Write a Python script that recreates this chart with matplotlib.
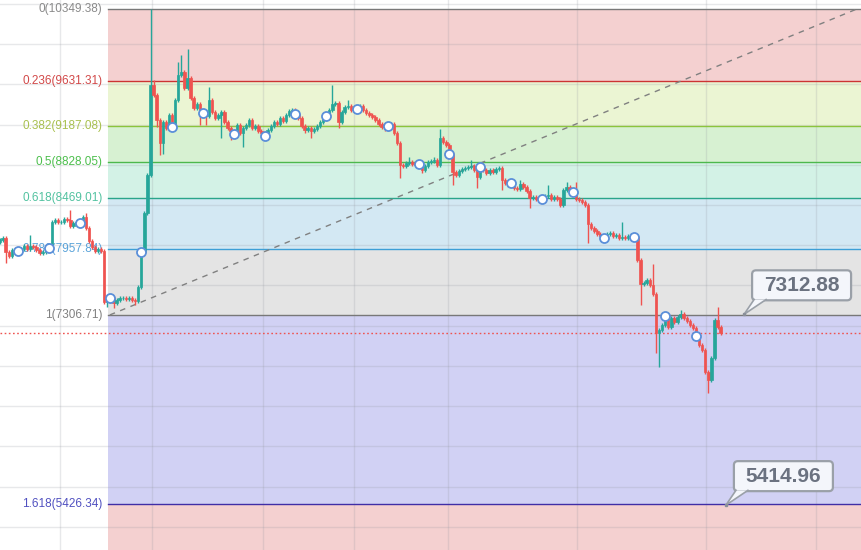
import matplotlib
matplotlib.use("Agg")
import matplotlib.pyplot as plt
from matplotlib.patches import FancyBboxPatch, Polygon
import numpy as np

# 2h candles, ten bars per day, closes
closes = [
    8052, 8072, 7933, 7893, 7952, 7943, 7943, 7962, 7992, 7962,
    7992, 7982, 7952, 7923, 7933, 7962, 7972, 8231, 8251, 8231,
    8231, 8261, 8251, 8191, 8221, 8231, 8221, 8281, 8171, 8042,
    7982, 7943, 7962, 7943, 7435, 7445, 7475, 7425, 7455, 7475,
    7475, 7465, 7475, 7455, 7445, 7584, 7933, 8320, 8698, 9594,
    9494, 9245, 9017, 9226, 9166, 9295, 9176, 9444, 9693, 9723,
    9564, 9663, 9464, 9365, 9405, 9305, 9315, 9285, 9444, 9325,
    9265, 9295, 9325, 9226, 9166, 9136, 9106, 9196, 9116, 9166,
    9196, 9245, 9166, 9186, 9136, 9116, 9086, 9146, 9186, 9226,
    9206, 9265, 9235, 9295, 9335, 9345, 9305, 9265, 9186, 9146,
    9166, 9136, 9156, 9186, 9226, 9255, 9285, 9345, 9405, 9415,
    9226, 9325, 9375, 9385, 9345, 9365, 9355, 9385, 9345, 9315,
    9295, 9275, 9245, 9206, 9176, 9156, 9186, 9206, 9116, 9017,
    8798, 8788, 8818, 8828, 8808, 8798, 8808, 8748, 8788, 8828,
    8838, 8848, 8798, 9066, 9027, 8997, 8907, 8728, 8698, 8738,
    8758, 8768, 8778, 8788, 8748, 8679, 8778, 8748, 8718, 8748,
    8728, 8758, 8768, 8649, 8619, 8599, 8619, 8569, 8559, 8609,
    8579, 8539, 8470, 8480, 8460, 8450, 8460, 8490, 8500, 8460,
    8480, 8460, 8400, 8549, 8579, 8549, 8529, 8460, 8450, 8430,
    8400, 8211, 8171, 8141, 8112, 8092, 8072, 8112, 8122, 8092,
    8102, 8072, 8082, 8072, 8092, 8102, 8082, 7853, 7614, 7624,
    7654, 7604, 7515, 7127, 7157, 7207, 7296, 7187, 7276, 7236,
    7286, 7316, 7276, 7246, 7207, 7177, 7097, 7008, 6958, 6739,
    6660, 6878, 7256, 7187, 7127,
]
first_open = 8030

# long wicks (bar index -> extreme price)
wick_highs = {10: 8102, 23: 8350, 28: 8320, 49: 10349.38, 50: 9643, 58: 9822,
              59: 9892, 61: 9952, 68: 9574, 108: 9594, 113: 9444, 133: 8877,
              141: 8877, 143: 9156, 153: 8848, 169: 8649, 178: 8599, 184: 8629,
              187: 8629, 202: 8231, 212: 7813, 221: 7356, 233: 7386}
wick_lows = {2: 7823, 35: 7386, 37: 7376, 44: 7406, 51: 9176, 52: 8897,
             53: 8907, 65: 9196, 67: 9196, 72: 9066, 75: 9047, 79: 8977,
             99: 9116, 101: 9066, 110: 9166, 130: 8669, 137: 8718, 147: 8599,
             155: 8569, 163: 8549, 172: 8370, 182: 8380, 191: 8022, 208: 7406,
             213: 6928, 214: 6789, 230: 6530}

# bars carrying the daily markers
marker_bars = [6, 16, 26, 36, 46, 56, 66, 76, 86, 96, 106, 116, 126, 136,
               146, 156, 166, 176, 186, 196, 206, 216, 226]

# fibonacci retracement
fib_ratios = [0, 0.236, 0.382, 0.5, 0.618, 0.786, 1, 1.618]
fib_prices = [10349.38, 9631.31, 9187.08, 8828.05, 8469.01, 7957.84, 7306.71, 5426.34]
fib_next_price = 2383.67  # 2.618, below the view
fib_line_colors = ['#787878', '#cc3333', '#8cc43c', '#4cb84c', '#2aa58a',
                   '#3d9fd6', '#787878', '#3f2ea6']
fib_label_colors = ['#8a8a8a', '#d24848', '#a8c04e', '#4cbf4c', '#52c2a0',
                    '#5aa3d9', '#808080', '#5050c0']
fib_band_colors = ['#f4d0d0', '#ebf5d3', '#d7f1d2', '#d3f2e6', '#d3e8f3',
                   '#e4e4e4', '#d1d1f4', '#f4d0d0']

# price callouts
callout_prices = [7312.88, 5414.96]
callout_bars = [241.6, 235.7]

# layout in bar units
xlim = (0.16, 279.86)
ylim = (4968.9, 10438.9)
fib_start = 35.2
trend_start = 35.8
trend_end = 278.2
vgrid = [19.6, 49.5, 85.5, 115.0, 145.5, 187.4, 229.2, 264.9]
hgrid = np.arange(5200, 10401, 400)

green = '#26a69a'
red = '#ef5350'
box_fc = '#f4f6fb'
box_ec = '#9aa0a8'

n = len(closes)
x = np.arange(n)
c = np.array(closes, dtype=float)
o = np.concatenate([[first_open], c[:-1]])
hi = np.maximum(o, c) + 20
lo = np.minimum(o, c) - 20
for k, v in wick_highs.items():
    hi[k] = max(hi[k], v)
for k, v in wick_lows.items():
    lo[k] = min(lo[k], v)
col = np.where(c >= o, green, red)

fig = plt.figure(figsize=(8.62, 5.5), dpi=100)
ax = fig.add_axes([0, 0, 1, 1])
ax.set_xlim(*xlim)
ax.set_ylim(*ylim)
ax.axis('off')

# fib bands and levels
edges = fib_prices + [fib_next_price]
for i in range(len(fib_band_colors)):
    ax.fill_between([fib_start, xlim[1]], edges[i + 1], edges[i],
                    color=fib_band_colors[i], lw=0, zorder=0)
for r, p, lc, tc in zip(fib_ratios, fib_prices, fib_line_colors, fib_label_colors):
    ax.plot([fib_start, xlim[1]], [p, p], color=lc, lw=1, zorder=2)
    ax.annotate(f"{r:g}({p:.2f})", (fib_start, p), xytext=(-4, 0),
                textcoords='offset points', ha='right', va='center',
                fontsize=8.5, color=tc, family=['Liberation Sans', 'DejaVu Sans'],
                zorder=2)

# grid
for g in hgrid:
    ax.axhline(g, color='#9598a1', alpha=0.22, lw=1, zorder=1)
for g in vgrid:
    ax.axvline(g, color='#9598a1', alpha=0.22, lw=1, zorder=1)

# trend line of the retracement
ax.plot([trend_start, trend_end], [fib_prices[6], fib_prices[0]], color='#808080',
        lw=1, ls=(0, (4, 4)), zorder=3)

# last price
ax.axhline(c[-1], color=red, lw=1, ls=(0, (1.2, 1.8)), zorder=3)

# candles
ax.vlines(x, lo, hi, colors=col, lw=1.0, zorder=4)
ax.bar(x, np.abs(c - o), bottom=np.minimum(o, c), width=0.78, color=col,
       edgecolor=col, lw=0.5, zorder=4)

# daily markers
ax.plot(marker_bars, c[marker_bars], 'o', ms=6.5, mfc='white', mec='#5b8fd9',
        mew=1.3, ls='none', zorder=5)

# callouts, drawn in pixel space next to their anchor
for b, p in zip(callout_bars, callout_prices):
    px, py = ax.transData.transform((b, p))
    box = FancyBboxPatch((px + 8, py + 14), 99, 30,
                         boxstyle='round,pad=0,rounding_size=4',
                         fc=box_fc, ec=box_ec, lw=1.6, transform=None, zorder=6)
    fig.add_artist(box)
    tail = [(px + 10, py + 14.8), (px, py), (px + 22, py + 14.8)]
    fig.add_artist(Polygon(tail, closed=True, fc=box_fc, ec='none',
                           transform=None, zorder=7))
    fig.add_artist(plt.Line2D([tail[0][0], px, tail[2][0]], [tail[0][1], py, tail[2][1]],
                              color=box_ec, lw=1.2, transform=None, zorder=7))
    fig.add_artist(plt.Line2D([px], [py], marker='s', ms=2, color='#8a8f99',
                              transform=None, zorder=8))
    fig.text((px + 57.5) / 862, (py + 29) / 550, f"{p:.2f}", ha='center',
             va='center', fontsize=15, fontweight='bold', color='#6b7280',
             family=['Liberation Sans', 'DejaVu Sans'], zorder=8)

fig.savefig('out.png', dpi=100)
